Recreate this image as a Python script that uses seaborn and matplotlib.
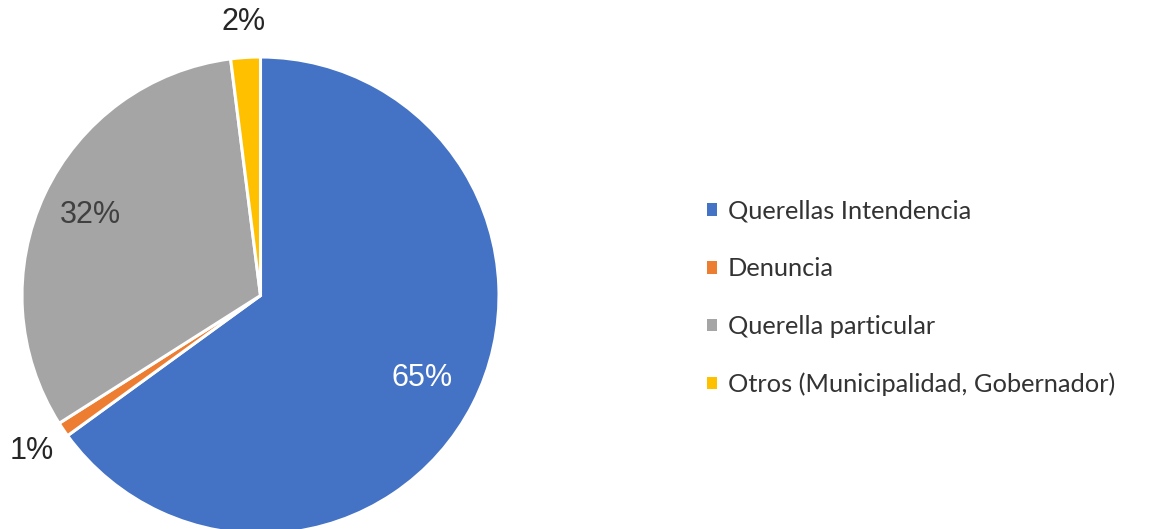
import matplotlib
matplotlib.use("Agg")
import matplotlib.pyplot as plt
import matplotlib.patches as mpatches
import numpy as np
import seaborn as sns

# Distribution of case origins (percent)
categories = ["Querellas Intendencia", "Denuncia", "Querella particular",
              "Otros (Municipalidad, Gobernador)"]
shares = [65, 1, 32, 2]
pct_labels = ["65%", "1%", "32%", "2%"]

sns.set_theme(style="white")
plt.rcParams["font.family"] = ["Liberation Sans", "DejaVu Sans"]

palette = ["#4472C4", "#ED7D31", "#A5A5A5", "#FFC000"]
label_colors = ["white", "#262626", "#404040", "#262626"]
label_radius = [0.76, 1.16, 0.79, 1.15]

W, H = 1152, 529
fig = plt.figure(figsize=(W / 100, H / 100), dpi=100)
fig.patch.set_facecolor("white")

cx, cy, r = 260.5, 295.5, 238.5
ax = fig.add_axes([(cx - r) / W, (H - cy - r) / H, 2 * r / W, 2 * r / H])
wedges, _ = ax.pie(shares, colors=palette, startangle=90, counterclock=False,
                   radius=1.0,
                   wedgeprops=dict(edgecolor="white", linewidth=2.2))
ax.set_xlim(-1, 1)
ax.set_ylim(-1, 1)
ax.set_aspect("equal")
ax.axis("off")

for w, txt, col, rad in zip(wedges, pct_labels, label_colors, label_radius):
    mid = np.deg2rad((w.theta1 + w.theta2) / 2)
    ax.text(rad * np.cos(mid), rad * np.sin(mid), txt, ha="center", va="center",
            fontsize=22, color=col, clip_on=False)

handles = [mpatches.Patch(facecolor=c, edgecolor="none") for c in palette]
fig.legend(handles, categories, loc="center left",
           bbox_to_anchor=(707 / W, (H - 298) / H),
           frameon=False, labelcolor="#333333",
           prop={"family": "Lato", "size": 18.3},
           handlelength=0.39, handleheight=0.39, handletextpad=0.42,
           labelspacing=1.36, borderpad=0, borderaxespad=0)

fig.savefig("out.png", dpi=100, facecolor="white")
